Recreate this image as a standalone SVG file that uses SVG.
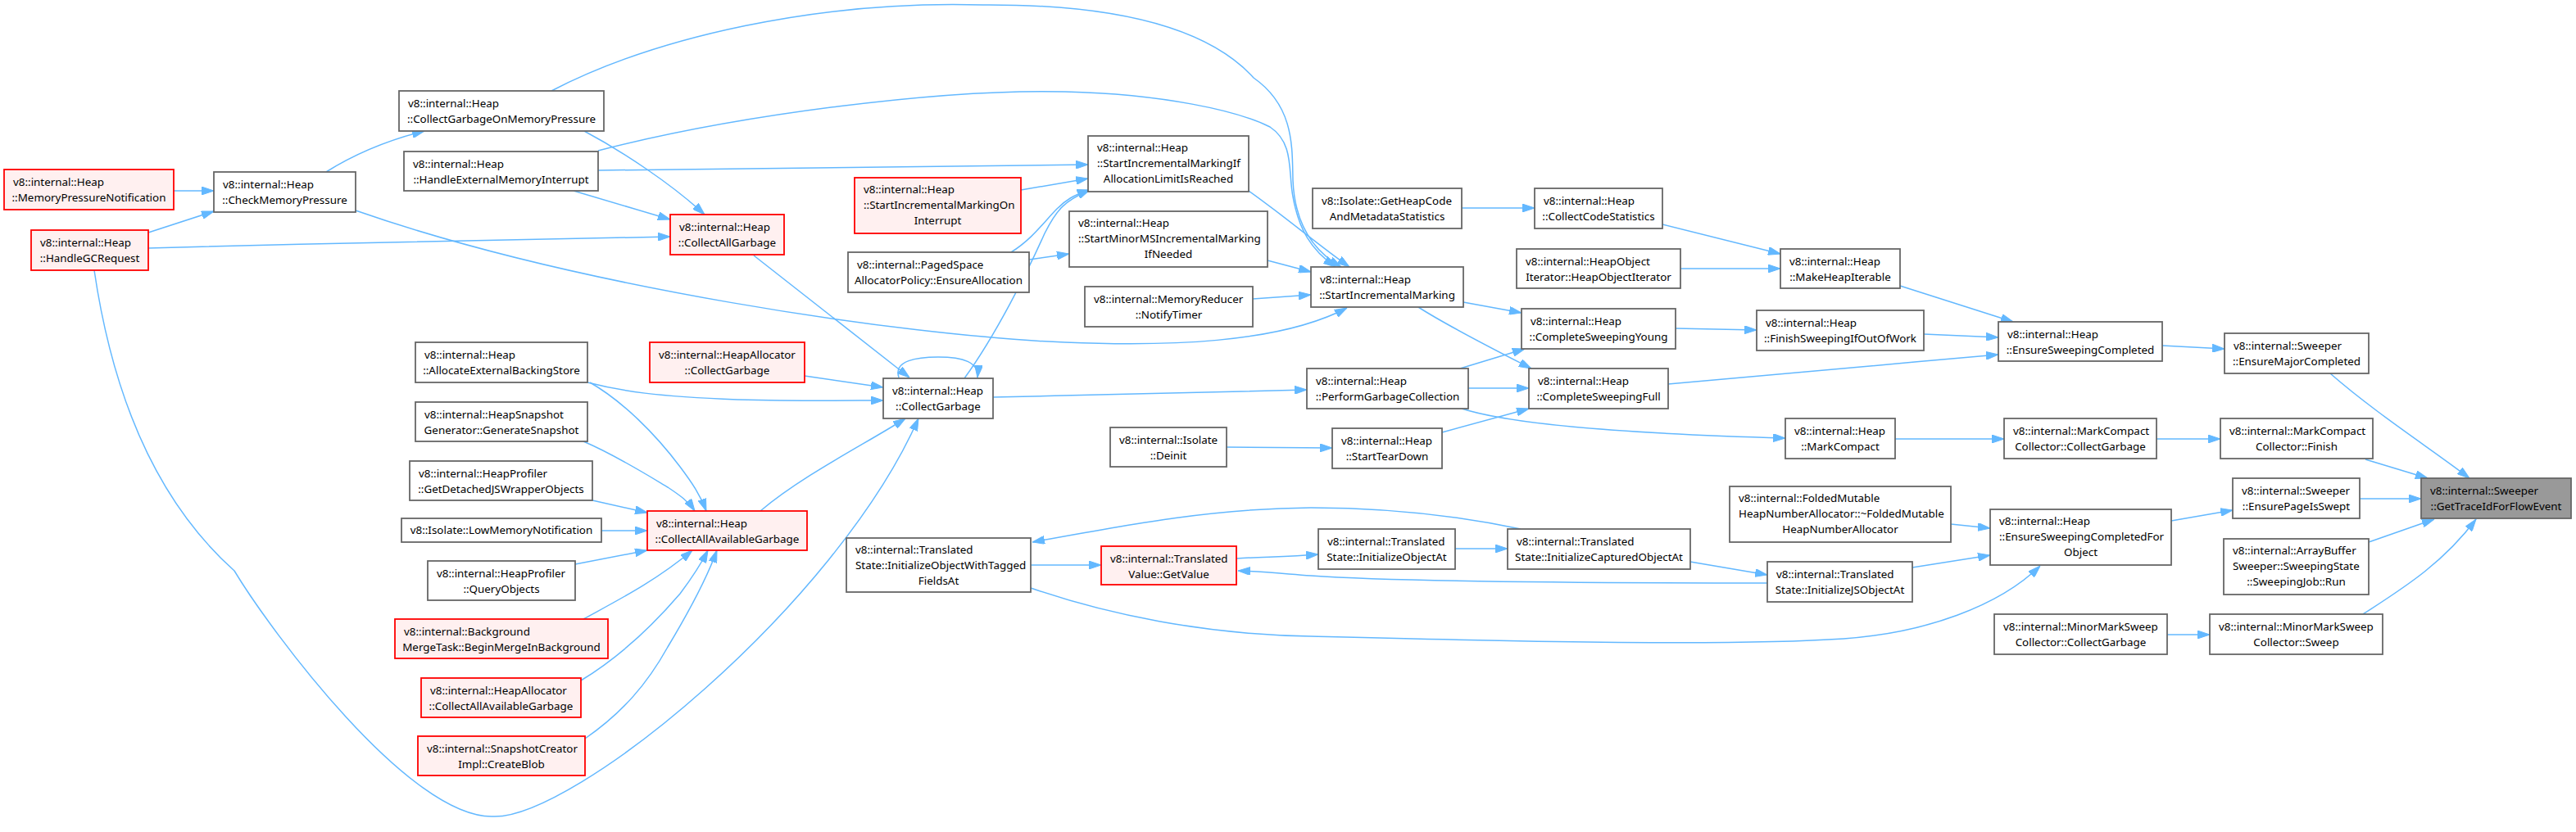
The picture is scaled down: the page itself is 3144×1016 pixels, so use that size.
<svg xmlns="http://www.w3.org/2000/svg" width="3144" height="1016" viewBox="0 0 3144 1016">
<style>
.node rect{fill:#ffffff;stroke:#666666;stroke-width:1.8}
.red rect{fill:#fff0f0;stroke:#ff0000}
.cur rect{fill:#999999;stroke:#666666}
text{font-family:"Noto Sans","Liberation Sans",sans-serif;font-size:13.4px;fill:#000000}
.c{text-anchor:middle}
#edges path{fill:none;stroke:#63b8ff;stroke-width:1.5;marker-end:url(#arr)}
</style>
<defs>
<marker id="arr" markerWidth="15" markerHeight="10" refX="15" refY="5" orient="auto" markerUnits="userSpaceOnUse">
<path d="M0,0 L15,5 L0,10 z" fill="#63b8ff" stroke="#63b8ff" stroke-width="1"/>
</marker>
</defs>
<rect x="0" y="0" width="3144" height="1016" fill="#ffffff"/>
<g id="edges">
<path d="M212,233 L261,233"/>
<path d="M181,284 L261,258"/>
<path d="M398,210 C430,190 470,172 518,160"/>
<path d="M181,303 C400,297 650,291 818,289"/>
<path d="M434,257 C700,350 1100,410 1300,418 C1420,423 1560,420 1644,376"/>
<path d="M713,160 C760,185 820,225 860,262"/>
<path d="M700,233 L818,268"/>
<path d="M730,208 L1328,201"/>
<path d="M673,111 C800,45 1000,0 1200,6 C1380,5 1480,40 1530,95 C1580,130 1577,180 1578,220 C1580,270 1600,305 1637,326"/>
<path d="M730,184 C900,140 1150,108 1300,112 C1420,115 1510,135 1550,155 C1580,175 1572,210 1578,240 C1585,280 1600,305 1630,326"/>
<path d="M1524,233 C1565,262 1610,300 1647,326"/>
<path d="M1547,318 L1600,332"/>
<path d="M1529,365 L1600,360"/>
<path d="M920,312 L1110,461"/>
<path d="M1097,461 C1090,440 1120,436 1145,436 C1175,436 1195,442 1193,461"/>
<path d="M1177,462 C1215,410 1255,330 1275,285 C1290,255 1300,245 1330,232"/>
<path d="M1234,308 C1260,292 1275,270 1290,255 C1300,245 1310,238 1330,232"/>
<path d="M1256,317 L1305,310"/>
<path d="M1246,232 L1328,218"/>
<path d="M982,459 L1078,473"/>
<path d="M717,467 C760,478 800,484 900,488 C980,490 1040,489 1078,489"/>
<path d="M720,467 C760,490 800,530 830,570 C845,590 855,605 862,624"/>
<path d="M712,539 C750,555 790,580 815,595 C830,605 840,612 848,624"/>
<path d="M723,611 L790,626"/>
<path d="M734,648 L790,648"/>
<path d="M702,689 L790,672"/>
<path d="M712,756 C750,735 800,710 845,672"/>
<path d="M709,831 C760,800 800,760 830,725 C845,705 855,690 864,672"/>
<path d="M714,902 C760,870 790,835 815,790 C845,740 865,700 875,672"/>
<path d="M928,624 C980,580 1060,540 1105,511"/>
<path d="M115,330 C140,500 200,620 286,697 C330,770 500,1000 602,997 C700,1000 1020,740 1121,511"/>
<path d="M1212,485 C1350,482 1500,478 1595,476"/>
<path d="M1258,690 L1344,690"/>
<path d="M1856,646 C1780,630 1700,620 1600,620 C1480,621 1380,640 1260,662"/>
<path d="M1509,682 C1540,680 1570,680 1609,677"/>
<path d="M2157,712 C1950,712 1700,710 1600,703 C1560,700 1540,698 1511,697"/>
<path d="M1776,670 L1840,670"/>
<path d="M2063,686 L2157,702"/>
<path d="M1258,718 C1350,750 1470,775 1600,777 C1800,782 2100,790 2250,780 C2350,773 2440,740 2490,691"/>
<path d="M2334,693 L2429,678"/>
<path d="M2381,640 L2429,645"/>
<path d="M2650,636 L2725,623"/>
<path d="M2880,609 L2955,609"/>
<path d="M2887,561 L2963,584"/>
<path d="M2844,456 C2900,505 2970,550 3014,584"/>
<path d="M2891,662 L2971,634"/>
<path d="M2884,750 C2930,720 2980,690 3022,634"/>
<path d="M2645,775 L2697,775"/>
<path d="M2632,536 L2710,536"/>
<path d="M2313,536 L2446,536"/>
<path d="M2639,422 L2715,426"/>
<path d="M2319,349 L2457,393"/>
<path d="M2348,408 L2439,412"/>
<path d="M2036,469 C2150,460 2300,445 2439,433"/>
<path d="M2045,401 L2144,403"/>
<path d="M2029,274 L2173,310"/>
<path d="M2051,328 L2173,328"/>
<path d="M1784,254 L1873,254"/>
<path d="M1786,369 L1857,382"/>
<path d="M1731,375 C1770,400 1830,430 1869,450"/>
<path d="M1782,450 L1861,426"/>
<path d="M1792,474 L1866,474"/>
<path d="M1760,528 L1866,499"/>
<path d="M1784,499 C1850,520 2000,530 2179,535"/>
<path d="M1497,546 L1626,547"/>
</g>
<g id="n1" class="node red"><rect x="5" y="207" width="207" height="49"/><text x="16" y="227">v8::internal::Heap</text><text class="c" x="108.5" y="246">::MemoryPressureNotification</text></g>
<g id="n2" class="node red"><rect x="38" y="281" width="143" height="49"/><text x="49" y="301">v8::internal::Heap</text><text class="c" x="109.5" y="320">::HandleGCRequest</text></g>
<g id="n3" class="node"><rect x="261" y="210" width="173" height="49"/><text x="272" y="230">v8::internal::Heap</text><text class="c" x="347.5" y="249">::CheckMemoryPressure</text></g>
<g id="n4" class="node"><rect x="487" y="111" width="250" height="49"/><text x="498" y="131">v8::internal::Heap</text><text class="c" x="612" y="150">::CollectGarbageOnMemoryPressure</text></g>
<g id="n5" class="node"><rect x="493" y="185" width="237" height="48"/><text x="504" y="205">v8::internal::Heap</text><text class="c" x="611.5" y="224">::HandleExternalMemoryInterrupt</text></g>
<g id="n6" class="node red"><rect x="818" y="262" width="139" height="49"/><text x="829" y="282">v8::internal::Heap</text><text class="c" x="887.5" y="301">::CollectAllGarbage</text></g>
<g id="n7" class="node red"><rect x="1043" y="217" width="203" height="68"/><text x="1054" y="236">v8::internal::Heap</text><text x="1054" y="255">::StartIncrementalMarkingOn</text><text class="c" x="1144.5" y="274">Interrupt</text></g>
<g id="n8" class="node"><rect x="1328" y="166" width="196" height="68"/><text x="1339" y="185">v8::internal::Heap</text><text x="1339" y="204">::StartIncrementalMarkingIf</text><text class="c" x="1426" y="223">AllocationLimitIsReached</text></g>
<g id="n9" class="node"><rect x="1305" y="258" width="242" height="68"/><text x="1316" y="277">v8::internal::Heap</text><text x="1316" y="296">::StartMinorMSIncrementalMarking</text><text class="c" x="1426" y="315">IfNeeded</text></g>
<g id="n10" class="node"><rect x="1035" y="308" width="221" height="49"/><text x="1046" y="328">v8::internal::PagedSpace</text><text class="c" x="1145.5" y="347">AllocatorPolicy::EnsureAllocation</text></g>
<g id="n11" class="node"><rect x="1324" y="350" width="205" height="49"/><text x="1335" y="370">v8::internal::MemoryReducer</text><text class="c" x="1426.5" y="389">::NotifyTimer</text></g>
<g id="n12" class="node red"><rect x="793" y="418" width="189" height="49"/><text x="804" y="438">v8::internal::HeapAllocator</text><text class="c" x="887.5" y="457">::CollectGarbage</text></g>
<g id="n13" class="node"><rect x="1078" y="462" width="134" height="49"/><text x="1089" y="482">v8::internal::Heap</text><text class="c" x="1145" y="501">::CollectGarbage</text></g>
<g id="n14" class="node"><rect x="507" y="418" width="210" height="49"/><text x="518" y="438">v8::internal::Heap</text><text class="c" x="612" y="457">::AllocateExternalBackingStore</text></g>
<g id="n15" class="node"><rect x="507" y="491" width="210" height="48"/><text x="518" y="511">v8::internal::HeapSnapshot</text><text class="c" x="612" y="530">Generator::GenerateSnapshot</text></g>
<g id="n16" class="node"><rect x="500" y="563" width="223" height="48"/><text x="511" y="583">v8::internal::HeapProfiler</text><text class="c" x="611.5" y="602">::GetDetachedJSWrapperObjects</text></g>
<g id="n17" class="node"><rect x="490" y="633" width="244" height="29"/><text class="c" x="612" y="652">v8::Isolate::LowMemoryNotification</text></g>
<g id="n18" class="node"><rect x="522" y="685" width="180" height="48"/><text x="533" y="705">v8::internal::HeapProfiler</text><text class="c" x="612" y="724">::QueryObjects</text></g>
<g id="n19" class="node red"><rect x="482" y="756" width="260" height="48"/><text x="493" y="776">v8::internal::Background</text><text class="c" x="612" y="795">MergeTask::BeginMergeInBackground</text></g>
<g id="n20" class="node red"><rect x="514" y="828" width="195" height="48"/><text x="525" y="848">v8::internal::HeapAllocator</text><text class="c" x="611.5" y="867">::CollectAllAvailableGarbage</text></g>
<g id="n21" class="node red"><rect x="510" y="899" width="204" height="48"/><text x="521" y="919">v8::internal::SnapshotCreator</text><text class="c" x="612" y="938">Impl::CreateBlob</text></g>
<g id="n22" class="node red"><rect x="790" y="624" width="195" height="48"/><text x="801" y="644">v8::internal::Heap</text><text class="c" x="887.5" y="663">::CollectAllAvailableGarbage</text></g>
<g id="n23" class="node"><rect x="1033" y="657" width="225" height="66"/><text x="1044" y="676">v8::internal::Translated</text><text x="1044" y="695">State::InitializeObjectWithTagged</text><text class="c" x="1145.5" y="714">FieldsAt</text></g>
<g id="n24" class="node red"><rect x="1344" y="667" width="165" height="47"/><text x="1355" y="687">v8::internal::Translated</text><text class="c" x="1426.5" y="706">Value::GetValue</text></g>
<g id="n25" class="node"><rect x="1355" y="522" width="142" height="48"/><text x="1366" y="542">v8::internal::Isolate</text><text class="c" x="1426" y="561">::Deinit</text></g>
<g id="n26" class="node"><rect x="1602" y="230" width="182" height="49"/><text x="1613" y="250">v8::Isolate::GetHeapCode</text><text class="c" x="1693" y="269">AndMetadataStatistics</text></g>
<g id="n27" class="node"><rect x="1873" y="230" width="156" height="49"/><text x="1884" y="250">v8::internal::Heap</text><text class="c" x="1951" y="269">::CollectCodeStatistics</text></g>
<g id="n28" class="node"><rect x="1851" y="304" width="200" height="48"/><text x="1862" y="324">v8::internal::HeapObject</text><text class="c" x="1951" y="343">Iterator::HeapObjectIterator</text></g>
<g id="n29" class="node"><rect x="2173" y="304" width="146" height="48"/><text x="2184" y="324">v8::internal::Heap</text><text class="c" x="2246" y="343">::MakeHeapIterable</text></g>
<g id="n30" class="node"><rect x="1600" y="326" width="186" height="49"/><text x="1611" y="346">v8::internal::Heap</text><text class="c" x="1693" y="365">::StartIncrementalMarking</text></g>
<g id="n31" class="node"><rect x="1857" y="377" width="188" height="49"/><text x="1868" y="397">v8::internal::Heap</text><text class="c" x="1951" y="416">::CompleteSweepingYoung</text></g>
<g id="n32" class="node"><rect x="2144" y="379" width="204" height="49"/><text x="2155" y="399">v8::internal::Heap</text><text class="c" x="2246" y="418">::FinishSweepingIfOutOfWork</text></g>
<g id="n33" class="node"><rect x="1595" y="450" width="197" height="49"/><text x="1606" y="470">v8::internal::Heap</text><text class="c" x="1693.5" y="489">::PerformGarbageCollection</text></g>
<g id="n34" class="node"><rect x="1866" y="450" width="170" height="49"/><text x="1877" y="470">v8::internal::Heap</text><text class="c" x="1951" y="489">::CompleteSweepingFull</text></g>
<g id="n35" class="node"><rect x="1626" y="523" width="134" height="49"/><text x="1637" y="543">v8::internal::Heap</text><text class="c" x="1693" y="562">::StartTearDown</text></g>
<g id="n36" class="node"><rect x="2179" y="511" width="134" height="49"/><text x="2190" y="531">v8::internal::Heap</text><text class="c" x="2246" y="550">::MarkCompact</text></g>
<g id="n37" class="node"><rect x="2111" y="594" width="270" height="68"/><text x="2122" y="613">v8::internal::FoldedMutable</text><text x="2122" y="632">HeapNumberAllocator::~FoldedMutable</text><text class="c" x="2246" y="651">HeapNumberAllocator</text></g>
<g id="n38" class="node"><rect x="1609" y="646" width="167" height="49"/><text x="1620" y="666">v8::internal::Translated</text><text class="c" x="1692.5" y="685">State::InitializeObjectAt</text></g>
<g id="n39" class="node"><rect x="1840" y="646" width="223" height="49"/><text x="1851" y="666">v8::internal::Translated</text><text class="c" x="1951.5" y="685">State::InitializeCapturedObjectAt</text></g>
<g id="n40" class="node"><rect x="2157" y="686" width="177" height="49"/><text x="2168" y="706">v8::internal::Translated</text><text class="c" x="2245.5" y="725">State::InitializeJSObjectAt</text></g>
<g id="n41" class="node"><rect x="2439" y="393" width="200" height="48"/><text x="2450" y="413">v8::internal::Heap</text><text class="c" x="2539" y="432">::EnsureSweepingCompleted</text></g>
<g id="n42" class="node"><rect x="2715" y="407" width="176" height="49"/><text x="2726" y="427">v8::internal::Sweeper</text><text class="c" x="2803" y="446">::EnsureMajorCompleted</text></g>
<g id="n43" class="node"><rect x="2446" y="511" width="186" height="49"/><text x="2457" y="531">v8::internal::MarkCompact</text><text class="c" x="2539" y="550">Collector::CollectGarbage</text></g>
<g id="n44" class="node"><rect x="2710" y="511" width="186" height="49"/><text x="2721" y="531">v8::internal::MarkCompact</text><text class="c" x="2803" y="550">Collector::Finish</text></g>
<g id="n45" class="node"><rect x="2725" y="584" width="155" height="49"/><text x="2736" y="604">v8::internal::Sweeper</text><text class="c" x="2802.5" y="623">::EnsurePageIsSwept</text></g>
<g id="n46" class="node cur"><rect x="2955" y="584" width="183" height="49"/><text x="2966" y="604">v8::internal::Sweeper</text><text class="c" x="3046.5" y="623">::GetTraceIdForFlowEvent</text></g>
<g id="n47" class="node"><rect x="2429" y="622" width="221" height="68"/><text x="2440" y="641">v8::internal::Heap</text><text x="2440" y="660">::EnsureSweepingCompletedFor</text><text class="c" x="2539.5" y="679">Object</text></g>
<g id="n48" class="node"><rect x="2714" y="658" width="177" height="68"/><text x="2725" y="677">v8::internal::ArrayBuffer</text><text x="2725" y="696">Sweeper::SweepingState</text><text class="c" x="2802.5" y="715">::SweepingJob::Run</text></g>
<g id="n49" class="node"><rect x="2434" y="750" width="211" height="49"/><text x="2445" y="770">v8::internal::MinorMarkSweep</text><text class="c" x="2539.5" y="789">Collector::CollectGarbage</text></g>
<g id="n50" class="node"><rect x="2697" y="750" width="211" height="49"/><text x="2708" y="770">v8::internal::MinorMarkSweep</text><text class="c" x="2802.5" y="789">Collector::Sweep</text></g>
</svg>
